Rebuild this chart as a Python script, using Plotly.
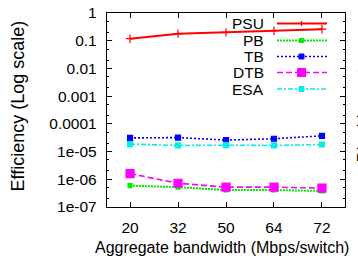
import plotly.graph_objects as go

categories = ["20", "32", "50", "64", "72"]
psu = [0.118, 0.18, 0.20, 0.23, 0.26]
pb = [5.9e-7, 5.2e-7, 4.1e-7, 4.1e-7, 3.8e-7]
tb = [3.1e-5, 3.2e-5, 2.6e-5, 2.9e-5, 3.7e-5]
dtb = [1.6e-6, 7.2e-7, 5.2e-7, 5.2e-7, 4.8e-7]
esa = [1.86e-5, 1.66e-5, 1.7e-5, 1.66e-5, 1.8e-5]
ytickvals = [1e-7, 1e-6, 1e-5, 1e-4, 1e-3, 1e-2, 1e-1, 1]
yticktext = ["1e-07", "1e-06", "1e-05", "0.0001", "0.001", "0.01", "0.1", "1"]

FONT = "Arial"

series = [
    ("PSU", psu, "#ff0000", "solid", "cross-thin-open", 6, 2.0),
    ("PB", pb, "#00ee00", "2px,1px", "square", 4, 2.0),
    ("TB", tb, "#0000ff", "2px,2px", "square", 5, 1.6),
    ("DTB", dtb, "#ff00ff", "6px,3px", "square", 8, 1.6),
    ("ESA", esa, "#00eeee", "5px,2px,2px,2px", "square", 5, 1.6),
]

fig = go.Figure()
for name, vals, color, dash, sym, size, lw in series:
    fig.add_trace(go.Scatter(
        x=categories, y=vals, name=name, mode="lines+markers",
        line=dict(color=color, dash=dash, width=lw),
        marker=dict(symbol=sym, size=size, color=color,
                    line=dict(color=color, width=1.2)),
        showlegend=False,
    ))

W, H = 358, 262
ml, mr, mt, mb = 107, 13, 13, 55
pw, ph = W - ml - mr, H - mt - mb

def px_x(x):
    return (x - ml) / pw

def px_y(y):
    return (H - mb - y) / ph

shapes = []
annotations = []
row_y = [23.5, 40.5, 56.5, 72.5, 89]
for (name, vals, color, dash, sym, size, lw), yy in zip(series, row_y):
    annotations.append(dict(
        x=px_x(266), y=px_y(yy), xref="paper", yref="paper", text=name,
        showarrow=False, xanchor="right", yanchor="middle",
        font=dict(size=15.5, color="black", family=FONT),
    ))
    shapes.append(dict(
        type="line", xref="paper", yref="paper",
        x0=px_x(277), x1=px_x(327), y0=px_y(yy), y1=px_y(yy),
        line=dict(color=color, width=lw, dash=dash),
    ))
    half = size / 2.0 if sym == "square" else 0
    if sym == "square":
        shapes.append(dict(
            type="rect", xref="paper", yref="paper",
            x0=px_x(301.5 - half), x1=px_x(301.5 + half),
            y0=px_y(yy + half), y1=px_y(yy - half),
            fillcolor=color, line=dict(color=color, width=1),
        ))
    else:
        shapes.append(dict(
            type="line", xref="paper", yref="paper",
            x0=px_x(301.5), x1=px_x(301.5), y0=px_y(yy - 2.5), y1=px_y(yy + 2.5),
            line=dict(color=color, width=1.2),
        ))

# x axis title (placed slightly left of centre as in the reference)
annotations.append(dict(
    x=px_x(221.5), y=px_y(247), xref="paper", yref="paper",
    text="Aggregate bandwidth (Mbps/switch)", showarrow=False,
    xanchor="center", yanchor="middle",
    font=dict(size=16, color="black", family=FONT),
))
# y axis title
annotations.append(dict(
    x=px_x(17.5), y=px_y(106), xref="paper", yref="paper",
    text="Efficiency (Log scale)", textangle=-90, showarrow=False,
    xanchor="center", yanchor="middle",
    font=dict(size=18, color="black", family=FONT),
))
# neighbouring panel's label, cut off at the right edge
annotations.append(dict(
    x=px_x(363), y=px_y(110.5), xref="paper", yref="paper",
    text="Blocking rate", textangle=-90, showarrow=False,
    xanchor="center", yanchor="middle",
    font=dict(size=18, color="black", family=FONT),
))

fig.update_layout(
    width=W, height=H,
    margin=dict(l=ml, r=mr, t=mt, b=mb, pad=0, autoexpand=False),
    plot_bgcolor="white", paper_bgcolor="white",
    font=dict(family=FONT, color="black", size=15.5),
    shapes=shapes, annotations=annotations,
    xaxis=dict(
        type="category", range=[-0.48, 4.48], automargin=False,
        showgrid=False, zeroline=False,
        showline=True, linecolor="black", linewidth=1.2, mirror="ticks",
        ticks="inside", ticklen=5, tickcolor="black",
        ticklabelstandoff=6,
    ),
    yaxis=dict(
        type="log", range=[-7, 0], automargin=False,
        tickvals=ytickvals, ticktext=yticktext,
        showgrid=False, zeroline=False,
        showline=True, linecolor="black", linewidth=1.2, mirror="ticks",
        ticks="inside", ticklen=5, tickcolor="black",
        ticklabelstandoff=6,
        minor=dict(ticks="inside", ticklen=2, tickcolor="black", showgrid=False),
    ),
)

fig.write_html(
    "out.html",
    config={"displayModeBar": False, "staticPlot": True},
    post_script="document.body.style.margin='0';document.body.style.overflow='hidden';",
)
